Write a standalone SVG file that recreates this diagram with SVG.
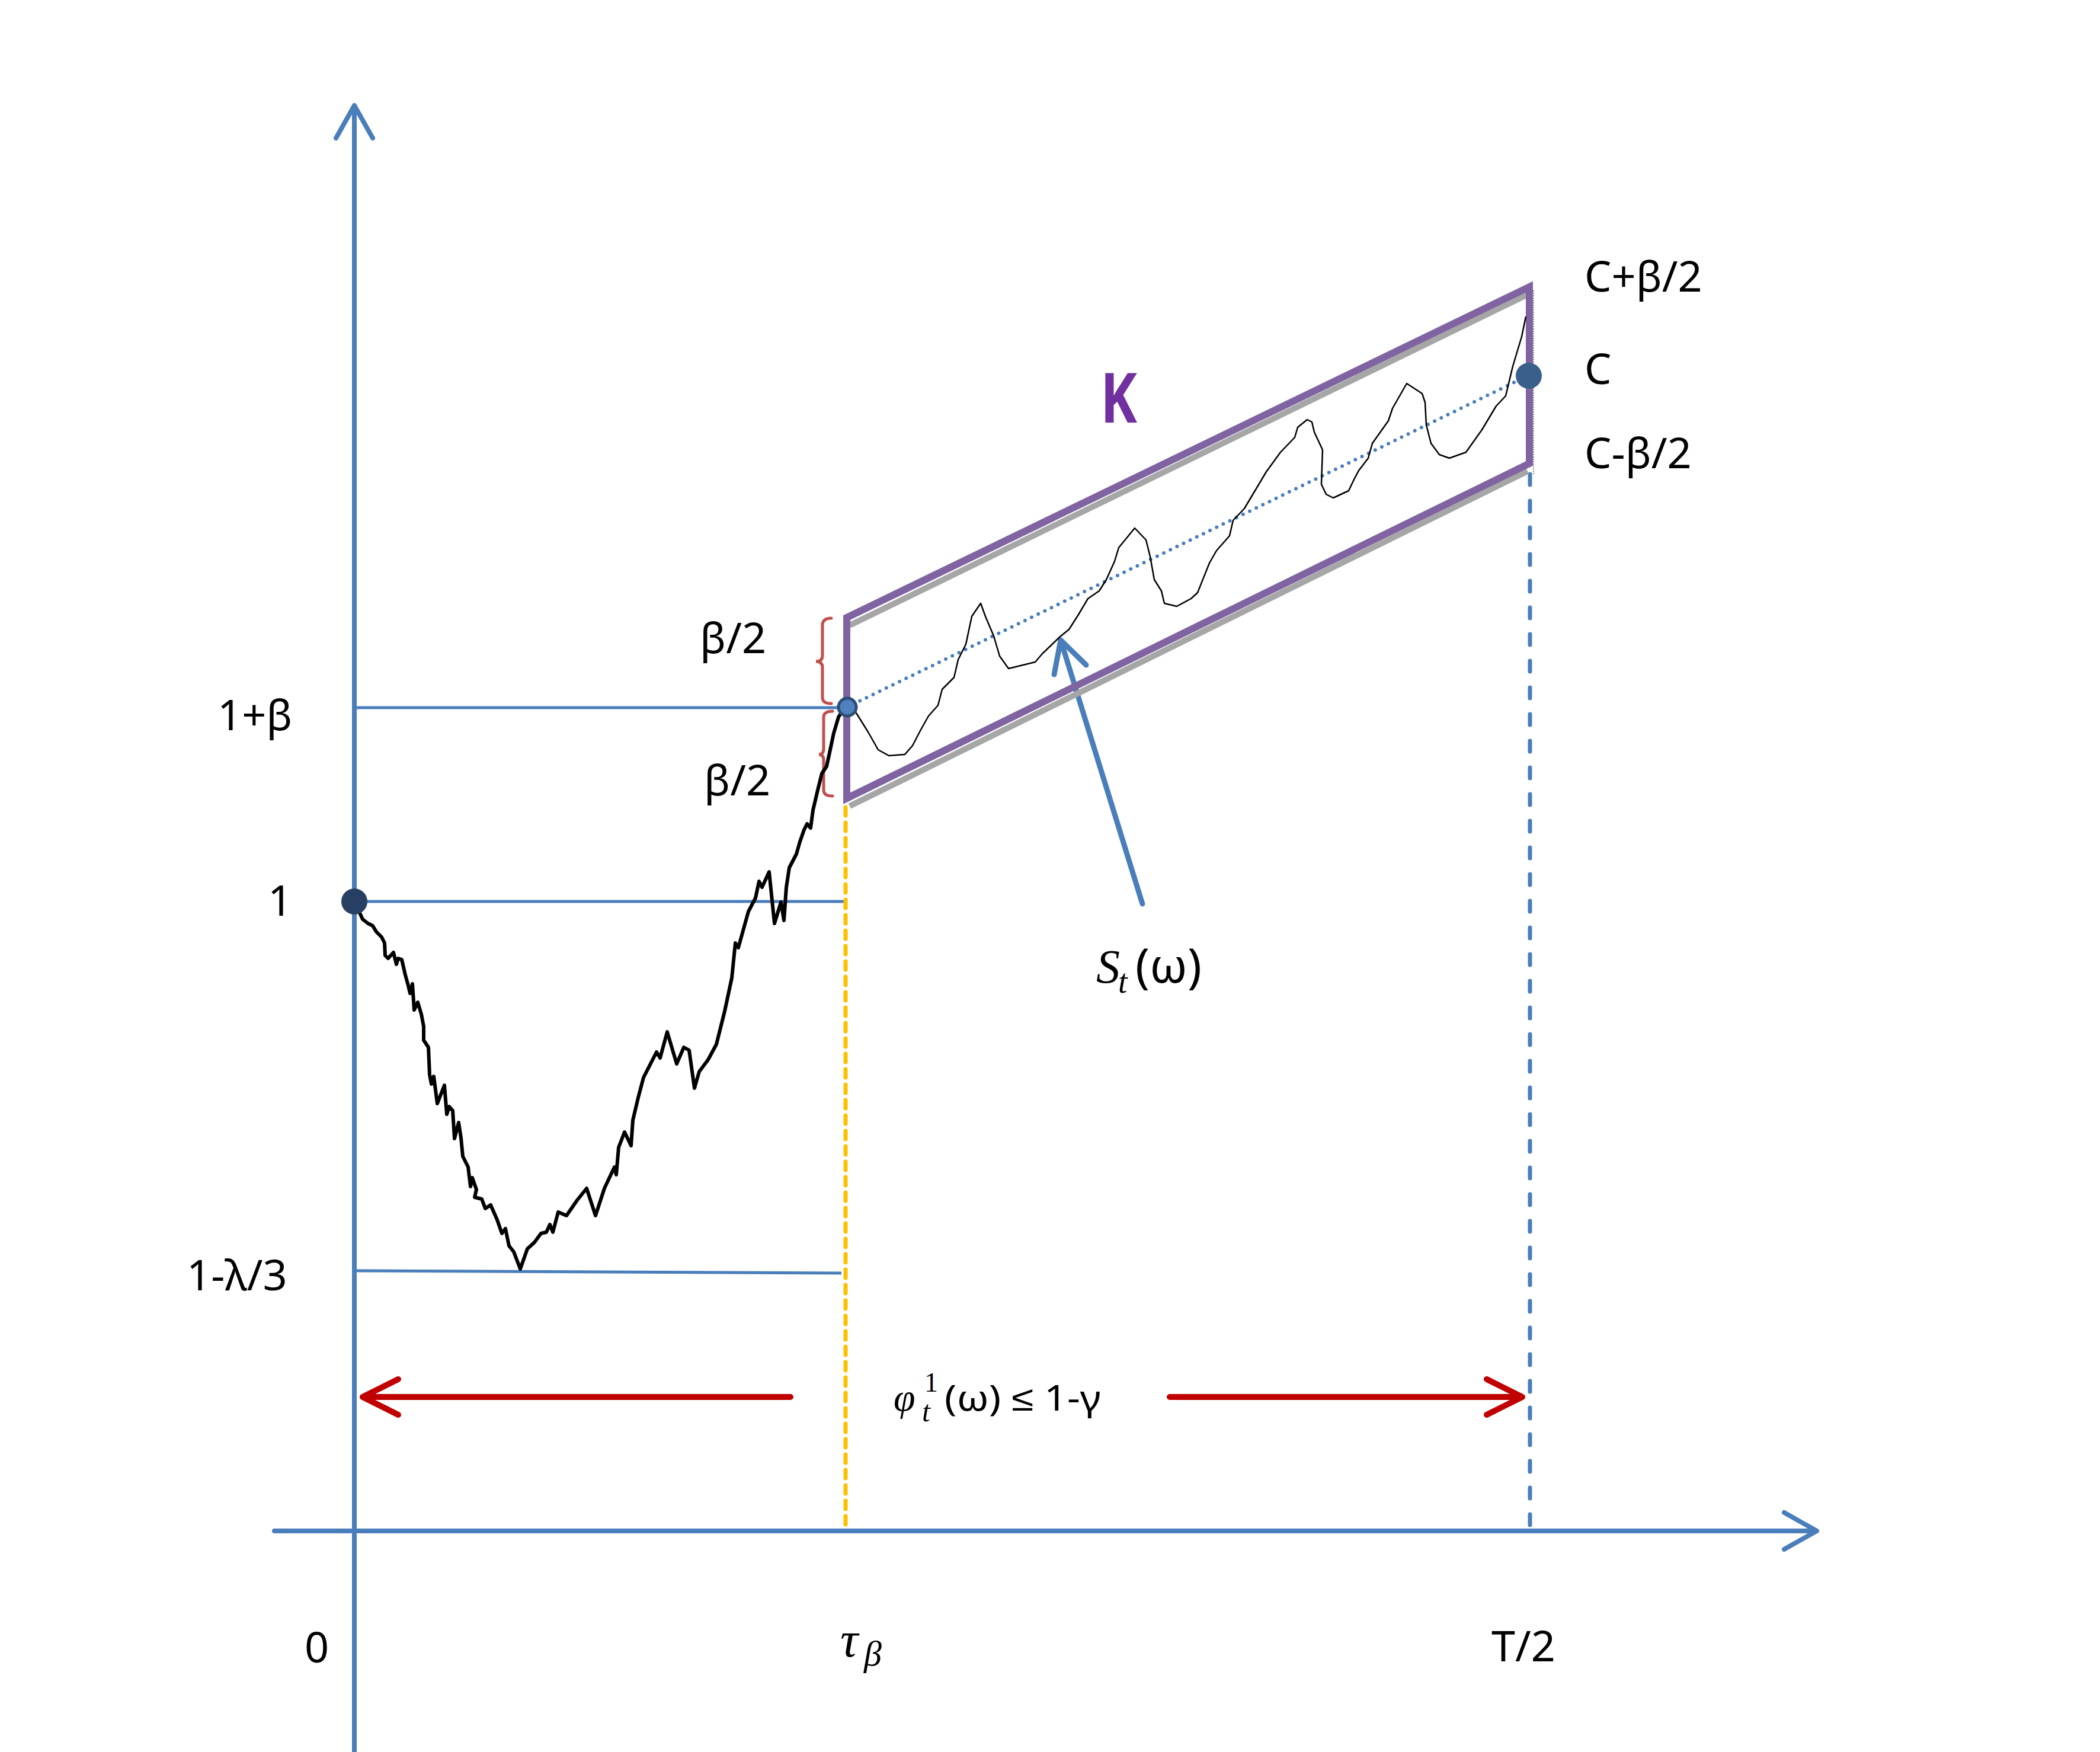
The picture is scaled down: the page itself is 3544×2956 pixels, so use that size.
<svg xmlns="http://www.w3.org/2000/svg" width="3544" height="2956" viewBox="0 0 3544 2956">
<style>
.ax{stroke:#4a7ebb;stroke-width:8;fill:none;stroke-linecap:round;stroke-linejoin:round}
.hl{stroke:#4a7ebb;stroke-width:5;fill:none}
.red{stroke:#c00000;stroke-width:10;fill:none;stroke-linecap:round;stroke-linejoin:round}
.brace{stroke:#c0504d;stroke-width:5;fill:none;stroke-linecap:round}
.box{stroke:#8064a2;stroke-width:12;fill:none;stroke-linejoin:miter}
.shadow{stroke:#a6a6a6;stroke-width:10;fill:none}
.lbl{font-family:"Noto Sans","Liberation Sans",sans-serif;font-size:72px;fill:#000}
.mi{font-family:"Liberation Serif","DejaVu Serif",serif;font-style:italic;fill:#000}
</style>
<rect width="3544" height="2956" fill="#fff"/>

<g id="connectors">
  <path class="ax" d="M598,2956 L598,178 M567,233 L598,178 L629,233"/>
  <path class="ax" d="M463,2583 L3066,2583 M3011,2552 L3066,2583 L3011,2614"/>
  <path class="hl" d="M598,1194 L1430,1194"/>
  <path class="hl" d="M598,1521 L1427,1521"/>
  <path class="hl" d="M598,2144 L1420,2148"/>
  <path d="M1427,1362 L1427,2583" stroke="#ffc000" stroke-width="7" stroke-dasharray="14 12" stroke-linecap="round" fill="none"/>
  <path d="M2582,800 L2582,2583" stroke="#4a7ebb" stroke-width="7" stroke-dasharray="18 27" stroke-linecap="round" fill="none"/>
  <path class="red" d="M1334,2357 L612,2357 M672,2327 L612,2357 L672,2387"/>
  <path class="red" d="M1974,2357 L2569,2357 M2509,2327 L2569,2357 L2509,2387"/>
  <path d="M1928,1525 L1790,1080 M1779,1138 L1790,1080 L1833,1122" stroke="#4a7ebb" stroke-width="9" fill="none" stroke-linecap="round" stroke-linejoin="round"/>
</g>

<g id="region-K">
  <path class="shadow" d="M1434,1055 L2578,497"/>
  <path class="shadow" d="M1434,1360 L2578,795"/>
  <path d="M2588,490 L2588,800" stroke="#888" stroke-width="2" stroke-dasharray="2 2" fill="none"/>
  <path class="box" d="M1429,1042 L2581,484 L2581,782 L1429,1347 Z"/>
  <path d="M1440,1188 L2568,639" stroke="#4a7ebb" stroke-width="6" stroke-dasharray="0 12.4" stroke-linecap="round" fill="none"/>
</g>

<g id="braces">
  <path class="brace" d="M1403,1043 Q1388,1043 1388,1055 L1388,1106 Q1388,1116 1377,1116 Q1388,1116 1388,1126 L1388,1177 Q1388,1187 1403,1187"/>
  <path class="brace" d="M1405,1200 Q1390,1200 1390,1210 L1390,1263 Q1390,1273 1382,1273 Q1390,1273 1390,1283 L1390,1333 Q1390,1343 1405,1343"/>
</g>

<g id="path-before">
  <path d="M598,1521 L606,1538 L612,1551 L621,1558 L629,1562 L635,1572 L644,1581 L649,1591 L650,1612 L655,1617 L664,1607 L669,1627 L672,1617 L678,1619 L684,1645 L689,1663 L692,1676 L696,1660 L699,1704 L705,1691 L711,1711 L715,1732 L715,1755 L723,1767 L725,1813 L728,1829 L732,1816 L738,1862 L743,1849 L750,1831 L754,1880 L758,1867 L764,1874 L767,1921 L774,1894 L778,1920 L781,1951 L790,1969 L794,2002 L797,1987 L804,2007 L801,2020 L813,2023 L819,2039 L828,2033 L839,2058 L847,2081 L853,2073 L859,2102 L867,2112 L878,2141 L890,2107 L902,2096 L913,2081 L922,2079 L928,2066 L933,2079 L942,2045 L956,2051 L974,2025 L990,2005 L1005,2051 L1020,2005 L1037,1969 L1040,1982 L1044,1936 L1054,1910 L1065,1933 L1068,1890 L1077,1852 L1086,1818 L1108,1775 L1114,1785 L1126,1741 L1142,1795 L1154,1767 L1163,1772 L1172,1836 L1180,1808 L1195,1788 L1209,1762 L1223,1706 L1235,1650 L1241,1591 L1246,1599 L1263,1538 L1275,1515 L1281,1487 L1286,1497 L1298,1471 L1307,1558 L1318,1522 L1323,1553 L1327,1497 L1332,1464 L1344,1441 L1350,1420 L1357,1400 L1362,1390 L1368,1397 L1372,1367 L1380,1333 L1387,1305 L1395,1293 L1400,1270 L1407,1237 L1415,1210 L1423,1197 L1430,1193" stroke="#000" stroke-width="6" fill="none" stroke-linejoin="round" stroke-linecap="round"/>
</g>

<g id="path-after">
  <path d="M1430,1193 L1445,1203 L1465,1235 L1482,1265 L1500,1275 L1527,1273 L1540,1258 L1553,1233 L1567,1208 L1583,1190 L1590,1163 L1610,1143 L1617,1113 L1630,1087 L1640,1040 L1655,1018 L1663,1040 L1677,1073 L1687,1107 L1702,1128 L1747,1117 L1759,1103 L1788,1075 L1804,1062 L1820,1037 L1836,1010 L1855,997 L1867,978 L1881,947 L1888,924 L1915,891 L1934,911 L1941,939 L1948,978 L1960,997 L1965,1018 L1986,1023 L2010,1010 L2021,1000 L2041,950 L2053,929 L2075,904 L2081,878 L2100,858 L2137,796 L2161,763 L2185,738 L2190,721 L2206,708 L2214,712 L2218,729 L2232,759 L2230,817 L2238,834 L2250,840 L2276,828 L2285,809 L2293,794 L2309,773 L2316,748 L2343,710 L2350,689 L2374,647 L2400,664 L2405,679 L2407,717 L2415,748 L2429,767 L2446,773 L2474,763 L2501,725 L2525,685 L2541,668 L2553,618 L2568,568 L2575,534" stroke="#000" stroke-width="2.5" fill="none" stroke-linejoin="round"/>
</g>

<g id="points">
  <circle id="pt-origin" cx="598" cy="1521" r="22" fill="#263f63"/>
  <circle id="pt-start" cx="1430" cy="1193" r="15" fill="#4f81bd" stroke="#2c4d75" stroke-width="5"/>
  <circle id="pt-C" cx="2580" cy="634" r="22" fill="#3a5f8b"/>
</g>

<g id="labels">
  <text class="lbl" x="2674" y="492">C+β/2</text>
  <text class="lbl" x="2674" y="648">C</text>
  <text class="lbl" x="2674" y="790">C-β/2</text>
  <text x="1857" y="713" font-family="Noto Sans,Liberation Sans,sans-serif" font-weight="bold" font-size="116" fill="#7030a0" textLength="62" lengthAdjust="spacingAndGlyphs">K</text>
  <text class="lbl" x="1181" y="1102">β/2</text>
  <text class="lbl" x="1188" y="1342">β/2</text>
  <text class="lbl" x="367" y="1232">1+β</text>
  <text class="lbl" x="452" y="1545">1</text>
  <text class="lbl" x="315" y="2177">1-λ/3</text>
  <text class="lbl" x="514" y="2805" font-size="76">0</text>
  <text class="lbl" x="2517" y="2803" font-size="76">T/2</text>
  <text class="mi" x="1418" y="2795" font-size="84">τ<tspan x="1458" y="2810" font-size="60">β</tspan></text>
  <text class="mi" x="1850" y="1658" font-size="80">S<tspan x="1887" y="1675" font-size="56">t</tspan><tspan x="1916" y="1658" font-style="normal" font-family="Noto Sans,Liberation Sans,sans-serif" font-size="80">(ω)</tspan></text>
  <text class="mi" x="1508" y="2380" font-size="66">φ<tspan x="1556" y="2398" font-size="50">t</tspan><tspan x="1560" y="2348" font-size="46" font-style="normal">1</tspan><tspan x="1594" y="2380" font-style="normal" font-family="Noto Sans,Liberation Sans,sans-serif" font-size="60" textLength="264" lengthAdjust="spacingAndGlyphs">(ω) ≤ 1-γ</tspan></text>
</g>
</svg>
